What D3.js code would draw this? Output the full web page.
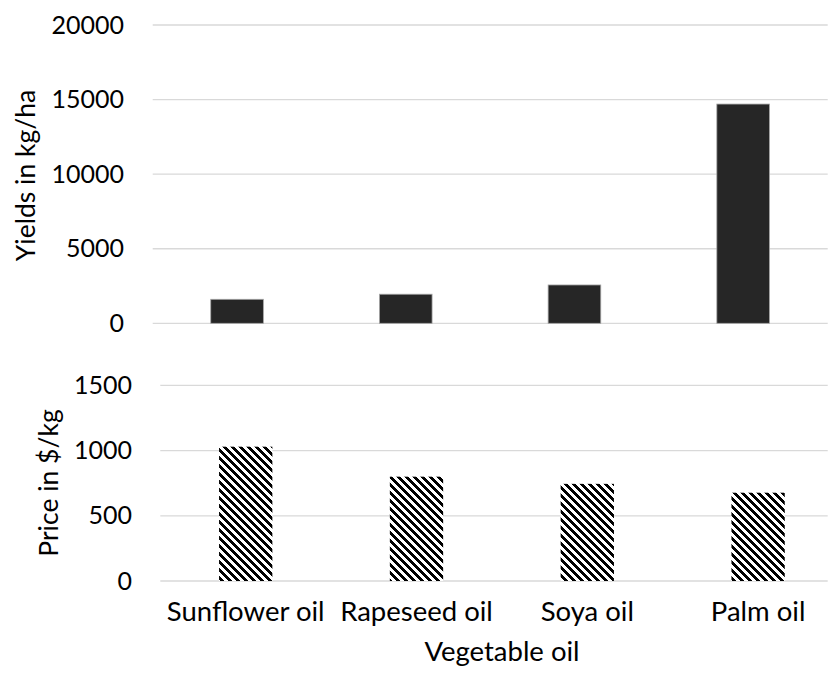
<!DOCTYPE html>
<html>
<head>
<meta charset="utf-8">
<script src="https://cdn.jsdelivr.net/npm/d3@7"></script>
<style>
  html, body { margin: 0; padding: 0; background: #fff; }
  svg { display: block; }
  text { font-family: Lato, "Open Sans", sans-serif; fill: #000; }
</style>
</head>
<body>
<svg id="chart" width="831" height="678"></svg>
<script>
// Vegetable oils: yield per hectare and price
const categories = ["Sunflower oil", "Rapeseed oil", "Soya oil", "Palm oil"];
const yields = [1610, 1950, 2570, 14700];      // kg/ha
const prices = [1030, 800, 745, 677];          // $/kg
const yieldTicks = [0, 5000, 10000, 15000, 20000];
const priceTicks = [0, 500, 1000, 1500];

const svg = d3.select("#chart");
const TICK_FS = 25;
const LABEL_FS = 27.5;
const TITLE_FS = 26.5;

// diagonal stripe pattern for the price bars (pixel staircase)
const P = 8;
const defs = svg.append("defs");
const pat = defs.append("pattern")
  .attr("id", "dnDiag")
  .attr("patternUnits", "userSpaceOnUse")
  .attr("width", P).attr("height", P);
pat.append("rect").attr("width", P).attr("height", P).attr("fill", "#fff");
for (let r = 0; r < P; r++) {
  for (let c = 0; c < P; c++) {
    if (((c - r) % P + P) % P < P / 2) {
      pat.append("rect").attr("x", c).attr("y", r)
        .attr("width", 1).attr("height", 1).attr("fill", "#000")
        .attr("shape-rendering", "crispEdges");
    }
  }
}

// ---- top panel: yields ----
const xTop = d3.scaleBand().domain(categories)
  .range([152.7, 827.5]).paddingInner(0.688).paddingOuter(0.344);
const yTop = d3.scaleLinear().domain([0, 20000]).range([323.3, 25]);

const gTop = svg.append("g");
gTop.selectAll("line.grid").data(yieldTicks).join("line")
  .attr("class", "grid")
  .attr("x1", 152.7).attr("x2", 827.7)
  .attr("y1", d => yTop(d)).attr("y2", d => yTop(d))
  .attr("stroke", "#d9d9d9").attr("stroke-width", 1.3);

const axTop = gTop.append("g").attr("transform", "translate(124,0)")
  .call(d3.axisLeft(yTop).tickValues(yieldTicks).tickSize(0).tickPadding(0).tickFormat(d3.format("d")));
axTop.select(".domain").remove();
axTop.selectAll("text").attr("font-size", TICK_FS).attr("font-family", "Lato, sans-serif").attr("fill", "#000");

gTop.selectAll("rect.bar").data(categories).join("rect")
  .attr("class", "bar")
  .attr("x", d => xTop(d))
  .attr("width", xTop.bandwidth())
  .attr("y", (d, i) => yTop(yields[i]))
  .attr("height", (d, i) => yTop(0) - yTop(yields[i]))
  .attr("fill", "#262626")
  .attr("stroke", "#a6a6a6").attr("stroke-width", 0.8);

svg.append("text")
  .attr("transform", "translate(35,175.5) rotate(-90)")
  .attr("text-anchor", "middle")
  .attr("font-size", TITLE_FS)
  .text("Yields in kg/ha");

// ---- bottom panel: prices ----
const xBot = d3.scaleBand().domain(categories)
  .range([160.3, 843.5]).paddingInner(0.688).paddingOuter(0.344);
const yBot = d3.scaleLinear().domain([0, 1500]).range([581, 385.4]);

const gBot = svg.append("g");
gBot.selectAll("line.grid").data(priceTicks).join("line")
  .attr("class", "grid")
  .attr("x1", 160.3).attr("x2", 827.7)
  .attr("y1", d => yBot(d)).attr("y2", d => yBot(d))
  .attr("stroke", "#d9d9d9").attr("stroke-width", 1.3);

const axBot = gBot.append("g").attr("transform", "translate(132,0)")
  .call(d3.axisLeft(yBot).tickValues(priceTicks).tickSize(0).tickPadding(0).tickFormat(d3.format("d")));
axBot.select(".domain").remove();
axBot.selectAll("text").attr("font-size", TICK_FS).attr("font-family", "Lato, sans-serif").attr("fill", "#000");

gBot.selectAll("rect.bar").data(categories).join("rect")
  .attr("class", "bar")
  .attr("x", d => xBot(d))
  .attr("width", xBot.bandwidth())
  .attr("y", (d, i) => yBot(prices[i]))
  .attr("height", (d, i) => yBot(0) - yBot(prices[i]))
  .attr("fill", "url(#dnDiag)");

svg.append("text")
  .attr("transform", "translate(58,483) rotate(-90)")
  .attr("text-anchor", "middle")
  .attr("font-size", TITLE_FS)
  .text("Price in $/kg");

// category labels and axis title
const axX = svg.append("g").attr("transform", "translate(0,601)")
  .call(d3.axisBottom(xBot).tickSize(0).tickPadding(0));
axX.select(".domain").remove();
axX.selectAll("text").attr("font-size", LABEL_FS).attr("font-family", "Lato, sans-serif").attr("fill", "#000");

svg.append("text")
  .attr("x", 502).attr("y", 661)
  .attr("text-anchor", "middle")
  .attr("font-size", LABEL_FS)
  .text("Vegetable oil");
</script>
</body>
</html>
